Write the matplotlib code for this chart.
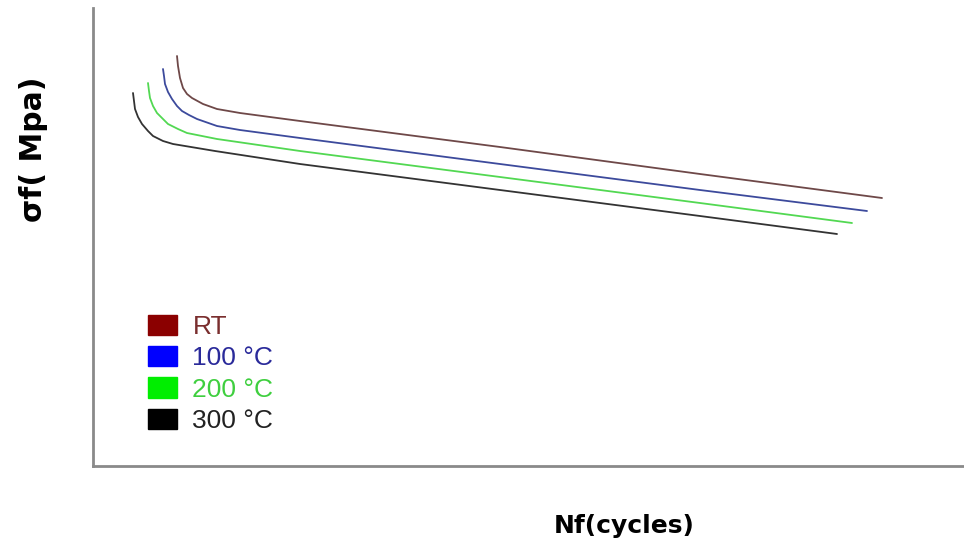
import matplotlib
matplotlib.use("Agg")
import matplotlib.pyplot as plt
from matplotlib.patches import Patch

# curves (arbitrary units, no scale given on the axes)
rt_x = [84, 85, 87, 90, 94, 99, 110, 124, 147, 207, 407, 607, 789]
rt_y = [410, 400, 388, 378, 372, 368, 362, 357, 353, 345, 319, 292, 268]

c100_x = [70, 71, 72, 75, 79, 84, 89, 96, 104, 124, 147, 207, 407, 607, 774]
c100_y = [397, 390, 382, 374, 367, 360, 355, 351, 347, 340, 336, 328, 302, 276, 255]

c200_x = [55, 56, 57, 60, 64, 70, 75, 85, 94, 124, 207, 407, 607, 759]
c200_y = [383, 375, 368, 360, 353, 347, 342, 337, 333, 327, 315, 289, 263, 243]

c300_x = [40, 41, 42, 45, 49, 55, 60, 70, 80, 122, 207, 407, 607, 744]
c300_y = [373, 365, 357, 349, 342, 335, 330, 325, 322, 315, 302, 276, 250, 232]

labels = ["RT", "100 °C", "200 °C", "300 °C"]
line_colors = ["#6e4848", "#3c4a9c", "#52d852", "#333333"]
box_colors = ["#8b0000", "#0000ff", "#00ee00", "#000000"]
text_colors = ["#7a2e2e", "#2a2a9a", "#3fcf3f", "#222222"]

plt.rcParams["font.family"] = ["Liberation Sans", "DejaVu Sans"]

fig = plt.figure(figsize=(9.64, 5.43), dpi=100)
ax = fig.add_axes([93 / 964, 1 - 466 / 543, 1 - 93 / 964, 458 / 543])

series = [(rt_x, rt_y), (c100_x, c100_y), (c200_x, c200_y), (c300_x, c300_y)]
for (xs, ys), col in zip(series, line_colors):
    ax.plot(xs, ys, color=col, lw=1.3, solid_capstyle="round",
            solid_joinstyle="round")

ax.set_xlim(0, 871)
ax.set_ylim(0, 458)
ax.set_xticks([])
ax.set_yticks([])
for side in ["top", "right"]:
    ax.spines[side].set_visible(False)
for side in ["left", "bottom"]:
    ax.spines[side].set_color("#8a8a8a")
    ax.spines[side].set_linewidth(2)

handles = [Patch(facecolor=c, edgecolor=c) for c in box_colors]
leg = ax.legend(handles, labels, loc="upper left",
                bbox_to_anchor=(44 / 871, 1 - 296 / 458),
                frameon=False, fontsize=19, handlelength=1.1, handleheight=0.8,
                handletextpad=0.6, labelspacing=0.27, borderaxespad=0)
for txt, col in zip(leg.get_texts(), text_colors):
    txt.set_color(col)

fig.text(34 / 964, 1 - 149 / 543, "σf( Mpa)", rotation=90, fontsize=21.5,
         fontweight="bold", family="DejaVu Sans", ha="center", va="center")
fig.text(624 / 964, 1 - 526 / 543, "Nf(cycles)", fontsize=18,
         fontweight="bold", family="DejaVu Sans", ha="center", va="center")

fig.savefig("out.png", dpi=100)
